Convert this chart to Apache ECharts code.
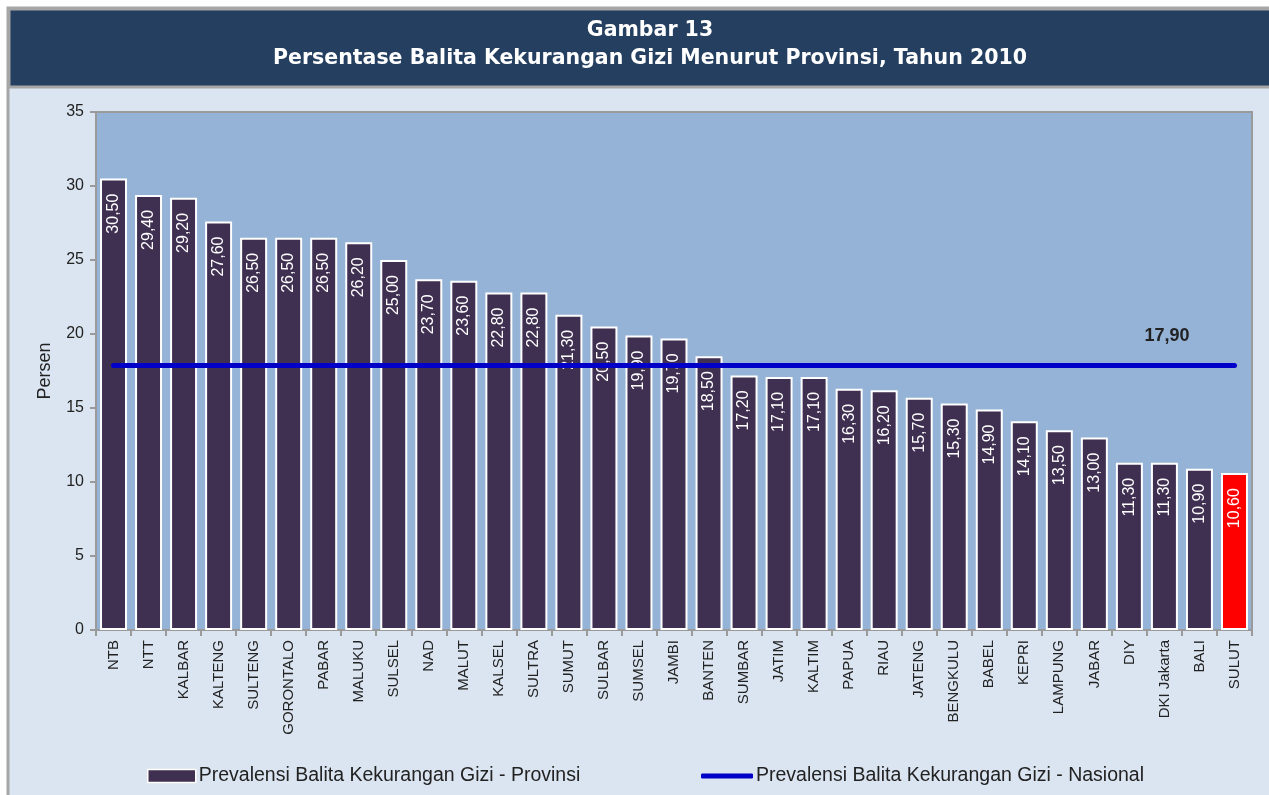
<!DOCTYPE html>
<html>
<head>
<meta charset="utf-8">
<title>Gambar 13</title>
<script src="https://cdn.jsdelivr.net/npm/echarts@6/dist/echarts.min.js"></script>
<style>
  html, body { margin: 0; padding: 0; background: #ffffff; }
  #chart { width: 1269px; height: 795px; }
</style>
</head>
<body>
<div id="chart"></div>
<script>
// data
var provinsi = ['NTB', 'NTT', 'KALBAR', 'KALTENG', 'SULTENG', 'GORONTALO', 'PABAR', 'MALUKU',
    'SULSEL', 'NAD', 'MALUT', 'KALSEL', 'SULTRA', 'SUMUT', 'SULBAR', 'SUMSEL', 'JAMBI', 'BANTEN',
    'SUMBAR', 'JATIM', 'KALTIM', 'PAPUA', 'RIAU', 'JATENG', 'BENGKULU', 'BABEL', 'KEPRI', 'LAMPUNG',
    'JABAR', 'DIY', 'DKI Jakarta', 'BALI', 'SULUT'];
var prevalensiProvinsi = [30.5, 29.4, 29.2, 27.6, 26.5, 26.5, 26.5, 26.2,
    25.0, 23.7, 23.6, 22.8, 22.8, 21.3, 20.5, 19.9, 19.7, 18.5,
    17.2, 17.1, 17.1, 16.3, 16.2, 15.7, 15.3, 14.9, 14.1, 13.5,
    13.0, 11.3, 11.3, 10.9, 10.6];
var prevalensiNasional = 17.9;
var yTicks = [0, 5, 10, 15, 20, 25, 30, 35];
var highlighted = 'SULUT';

var namaProvinsi = 'Prevalensi Balita Kekurangan Gizi - Provinsi';
var namaNasional = 'Prevalensi Balita Kekurangan Gizi - Nasional';

function koma(v) {
    return Number(v).toFixed(2).replace('.', ',');
}

var fontUtama = '"Liberation Sans", Arial, sans-serif';
var warnaBatang = '#3f2f51';
var warnaGaris = '#0000c8';

var myChart = echarts.init(document.getElementById('chart'));

var option = {
    backgroundColor: '#ffffff',
    animation: false,
    graphic: [
        {
            type: 'rect', z: -10, silent: true,
            shape: { x: 8, y: 8, width: 1270, height: 800 },
            style: { fill: '#dbe5f1', stroke: '#a6a6a6', lineWidth: 3 }
        },
        {
            type: 'rect', z: -9, silent: true,
            shape: { x: 9, y: 9, width: 1270, height: 78 },
            style: { fill: '#243f60', stroke: '#a6a6a6', lineWidth: 3 }
        }
    ],
    title: {
        text: 'Gambar 13\nPersentase Balita Kekurangan Gizi Menurut Provinsi, Tahun 2010',
        left: 645,
        textAlign: 'center',
        top: 12,
        textStyle: {
            color: '#ffffff',
            fontFamily: '"DejaVu Sans", Verdana, sans-serif',
            fontWeight: 'bold',
            fontSize: 20.5,
            lineHeight: 28
        }
    },
    legend: [
        {
            data: [namaProvinsi],
            left: 142,
            top: 761,
            itemWidth: 48,
            itemHeight: 13,
            itemGap: 5,
            icon: 'rect',
            itemStyle: { color: warnaBatang, borderColor: '#ffffff', borderWidth: 1.5 },
            textStyle: { fontFamily: fontUtama, fontSize: 19.5, color: '#222222', padding: [0, 0, 0, -2] }
        },
        {
            data: [namaNasional],
            left: 696,
            top: 761,
            itemWidth: 52,
            itemHeight: 5,
            itemGap: 5,
            icon: 'roundRect',
            itemStyle: { color: warnaGaris },
            textStyle: { fontFamily: fontUtama, fontSize: 19.5, color: '#222222', padding: [0, 0, 0, -2] }
        }
    ],
    grid: {
        left: 96,
        right: 17,
        top: 112,
        bottom: 165,
        show: true,
        backgroundColor: '#95b3d7',
        borderColor: '#9a9a9a',
        borderWidth: 2
    },
    xAxis: {
        type: 'category',
        data: provinsi,
        boundaryGap: true,
        axisLine: { lineStyle: { color: '#9a9a9a', width: 2 } },
        axisTick: { show: true, length: 6, lineStyle: { color: '#9a9a9a', width: 2 } },
        axisLabel: {
            rotate: 90,
            interval: 0,
            margin: 10,
            fontFamily: fontUtama,
            fontSize: 15,
            color: '#222222'
        }
    },
    yAxis: {
        type: 'value',
        min: yTicks[0],
        max: yTicks[yTicks.length - 1],
        interval: 5,
        name: 'Persen',
        nameLocation: 'middle',
        nameGap: 42,
        nameRotate: 90,
        nameTextStyle: { fontFamily: fontUtama, fontSize: 18, color: '#222222' },
        axisLine: { show: true, lineStyle: { color: '#9a9a9a', width: 2 } },
        axisTick: { show: true, length: 6, lineStyle: { color: '#9a9a9a', width: 2 } },
        splitLine: { show: false },
        axisLabel: {
            fontFamily: fontUtama,
            fontSize: 16,
            color: '#222222',
            margin: 12
        }
    },
    series: [
        {
            name: namaProvinsi,
            type: 'bar',
            data: prevalensiProvinsi,
            barWidth: '77%',
            color: warnaBatang,
            itemStyle: {
                color: function (p) {
                    return p.name === highlighted ? '#ff0000' : warnaBatang;
                },
                borderColor: '#ffffff',
                borderWidth: 2
            },
            label: {
                show: true,
                position: 'insideTop',
                rotate: 90,
                align: 'right',
                verticalAlign: 'middle',
                distance: 15,
                fontFamily: fontUtama,
                fontSize: 16,
                color: '#ffffff',
                formatter: function (p) { return koma(p.value); }
            }
        },
        {
            name: namaNasional,
            type: 'line',
            data: [],
            color: warnaGaris,
            symbol: 'none',
            lineStyle: { color: warnaGaris, width: 5 },
            markLine: {
                silent: true,
                symbol: 'none',
                z: 10,
                lineStyle: { color: warnaGaris, width: 5, type: 'solid', cap: 'round' },
                label: {
                    show: true,
                    position: 'insideEndTop',
                    distance: [45, 20],
                    formatter: koma(prevalensiNasional),
                    fontFamily: fontUtama,
                    fontWeight: 'bold',
                    fontSize: 18,
                    color: '#222222'
                },
                data: [[
                    { coord: [provinsi[0], prevalensiNasional] },
                    { coord: [provinsi[provinsi.length - 1], prevalensiNasional] }
                ]]
            }
        }
    ]
};

myChart.setOption(option);
</script>
</body>
</html>
